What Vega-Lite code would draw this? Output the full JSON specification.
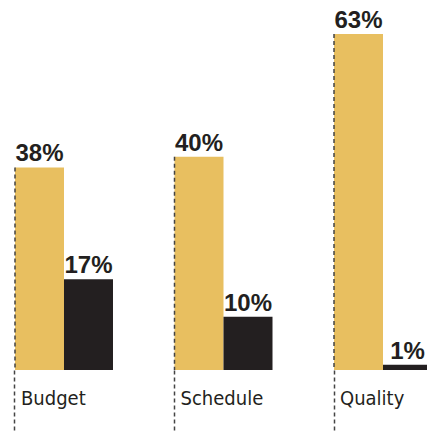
{
  "$schema": "https://vega.github.io/schema/vega-lite/v6.json",
  "width": 427,
  "height": 370,
  "autosize": "none",
  "padding": {"left": 0, "top": 0, "right": 0, "bottom": 61},
  "config": {"view": {"stroke": null}},
  "data": {
    "values": [
      {"cat": "Budget", "series": "A", "value": 0.38},
      {"cat": "Budget", "series": "B", "value": 0.17},
      {"cat": "Schedule", "series": "A", "value": 0.40},
      {"cat": "Schedule", "series": "B", "value": 0.10},
      {"cat": "Quality", "series": "A", "value": 0.63},
      {"cat": "Quality", "series": "B", "value": 0.01}
    ]
  },
  "encoding": {
    "x": {
      "field": "cat", "type": "nominal", "sort": ["Budget", "Schedule", "Quality"],
      "scale": {"range": [0, 447], "paddingInner": 0.3856, "paddingOuter": 0.094},
      "axis": {
        "title": null, "domain": false, "bandPosition": 0, "tickSize": 61,
        "tickDash": [4, 3], "tickColor": "#444444", "tickWidth": 1.5,
        "labelAngle": 0, "labelAlign": "left", "labelOffset": -43, "labelBaseline": "alphabetic",
        "labelPadding": -27, "labelFont": "DejaVu Sans Condensed", "labelFontSize": 20,
        "labelColor": "#231F20"
      }
    },
    "y": {"field": "value", "type": "quantitative", "scale": {"domain": [0, 0.694]}, "axis": null}
  },
  "layer": [
    {
      "mark": {"type": "bar", "clip": true},
      "encoding": {
        "xOffset": {"field": "series", "type": "nominal", "scale": {"paddingInner": 0, "paddingOuter": 0}},
        "color": {"field": "series", "type": "nominal", "scale": {"range": ["#E8BF60", "#231F20"]}, "legend": null}
      }
    },
    {
      "mark": {"type": "text", "baseline": "alphabetic", "dy": -6, "font": "Liberation Sans", "fontWeight": "bold", "fontSize": 24, "color": "#231F20"},
      "encoding": {
        "xOffset": {"field": "series", "type": "nominal", "scale": {"paddingInner": 0, "paddingOuter": 0}},
        "text": {"field": "value", "type": "quantitative", "format": ".0%"}
      }
    },
    {
      "transform": [{"filter": "datum.series === 'A'"}],
      "mark": {"type": "rule", "strokeDash": [4, 3], "color": "#444444", "strokeWidth": 1.5},
      "encoding": {
        "x": {
          "field": "cat", "type": "nominal", "sort": ["Budget", "Schedule", "Quality"], "bandPosition": 0,
          "scale": {"range": [0, 447], "paddingInner": 0.3856, "paddingOuter": 0.094},
          "axis": {
            "title": null, "domain": false, "bandPosition": 0, "tickSize": 61,
            "tickDash": [4, 3], "tickColor": "#444444", "tickWidth": 1.5,
            "labelAngle": 0, "labelAlign": "left", "labelOffset": -43, "labelBaseline": "alphabetic",
            "labelPadding": -27, "labelFont": "DejaVu Sans Condensed", "labelFontSize": 20,
            "labelColor": "#231F20"
          }
        },
        "y2": {"datum": 0}
      }
    }
  ]
}
